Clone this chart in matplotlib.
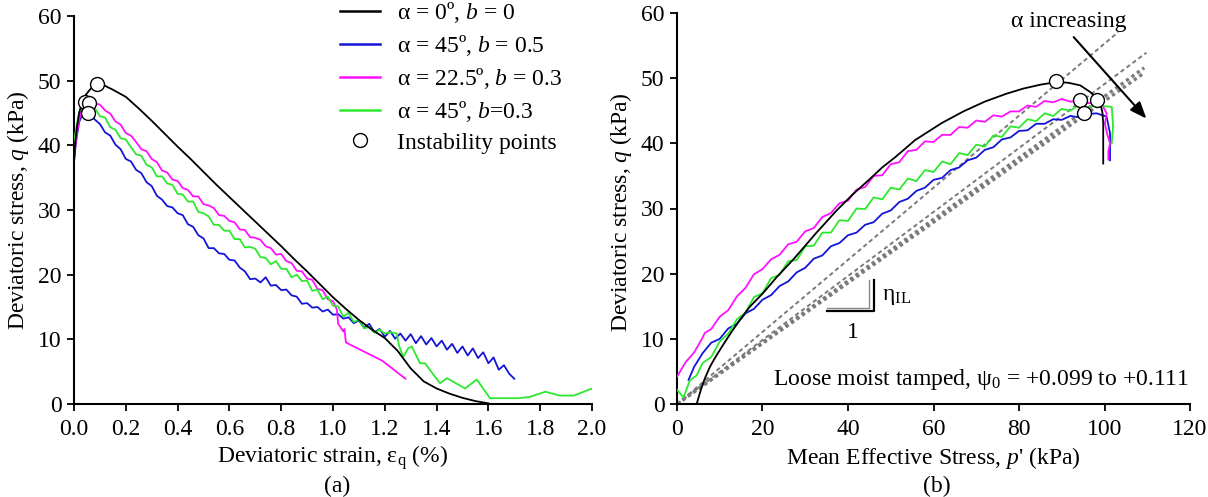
import matplotlib
matplotlib.use("Agg")
import matplotlib.pyplot as plt
from matplotlib.lines import Line2D

plt.rcParams['font.family'] = ['Liberation Serif', 'DejaVu Serif']
plt.rcParams['mathtext.fontset'] = 'custom'
plt.rcParams['mathtext.rm'] = 'Liberation Serif'
plt.rcParams['mathtext.it'] = 'Liberation Serif:italic'
plt.rcParams['mathtext.bf'] = 'Liberation Serif:bold'

# ---------------- Panel (a): deviatoric strain vs q ----------------
eps_black = [0.000, 0.005, 0.012, 0.02, 0.03, 0.04, 0.055, 0.07, 0.09, 0.12, 0.15,
             0.20, 0.25, 0.30, 0.35, 0.40, 0.45, 0.50, 0.55, 0.60, 0.65,
             0.70, 0.75, 0.80, 0.85, 0.90, 0.95, 1.00, 1.05, 1.10, 1.15,
             1.20, 1.25, 1.30, 1.35, 1.40, 1.45, 1.50, 1.55, 1.60]
q_black = [37.5, 40.5, 43.0, 45.0, 46.5, 47.5, 48.3, 49.0, 49.5, 49.2, 48.6,
           47.5, 45.7, 43.8, 41.8, 39.8, 37.9, 35.9, 33.9, 32.0, 30.1,
           28.2, 26.3, 24.4, 22.4, 20.5, 18.5, 16.5, 14.7, 13.0, 11.5,
           10.2, 8.2, 5.5, 3.5, 2.4, 1.6, 0.95, 0.45, 0.1]

eps_blue = [0.0, 0.005, 0.01, 0.02, 0.03, 0.045, 0.06, 0.08,
            0.10, 0.12, 0.14, 0.16, 0.18, 0.20, 0.22, 0.24, 0.26, 0.28,
            0.30, 0.32, 0.34, 0.36, 0.38, 0.40, 0.42, 0.44, 0.46, 0.48,
            0.50, 0.52, 0.54, 0.56, 0.58, 0.60, 0.62, 0.64, 0.66, 0.68,
            0.70, 0.72, 0.74, 0.76, 0.78, 0.80, 0.82, 0.84, 0.86, 0.88,
            0.90, 0.92, 0.94, 0.96, 0.98, 1.00, 1.02, 1.04, 1.06, 1.08,
            1.10, 1.12, 1.14, 1.16, 1.18, 1.20, 1.22, 1.24, 1.26, 1.28,
            1.30, 1.32, 1.34, 1.36, 1.38, 1.40, 1.42, 1.44, 1.46, 1.48,
            1.50, 1.52, 1.54, 1.56, 1.58, 1.60, 1.62, 1.64, 1.66, 1.68,
            1.70]
q_blue = [37.5, 39.5, 41.2, 43.6, 44.6, 45.0, 44.9, 44.0,
          43.3, 42.0, 41.5, 40.1, 39.4, 37.9, 37.5, 36.2, 35.7, 34.3,
          33.7, 32.2, 31.6, 30.6, 30.4, 29.5, 29.2, 27.8, 27.4, 26.1,
          25.6, 24.1, 24.1, 23.3, 23.2, 22.3, 22.2, 21.1, 20.5, 19.3,
          19.4, 18.8, 19.6, 18.3, 18.4, 17.6, 17.7, 16.8, 16.6, 15.5,
          15.6, 14.9, 15.0, 14.3, 14.6, 13.8, 13.9, 13.2, 13.4, 12.5,
          12.9, 11.8, 12.4, 11.1, 11.6, 10.4, 11.3, 10.1, 10.9, 9.8,
          10.8, 9.4, 10.5, 9.2, 10.2, 8.9, 9.8, 8.4, 9.3, 7.9,
          8.9, 7.5, 8.6, 7.1, 8.0, 6.3, 7.2, 5.3, 6.0, 4.7,
          3.9]

eps_mag = [0.0, 0.01, 0.02, 0.03, 0.05, 0.07, 0.09,
           0.10, 0.12, 0.14, 0.16, 0.18, 0.20, 0.22, 0.24, 0.26, 0.28,
           0.30, 0.32, 0.34, 0.36, 0.38, 0.40, 0.42, 0.44, 0.46, 0.48,
           0.50, 0.52, 0.54, 0.56, 0.58, 0.60, 0.62, 0.64, 0.66, 0.68,
           0.70, 0.72, 0.74, 0.76, 0.78, 0.80, 0.82, 0.84, 0.86, 0.88,
           0.90, 0.92, 0.94, 0.96, 0.98, 1.00,
           1.015, 1.02, 1.03, 1.04, 1.044, 1.05, 1.19, 1.28]
q_mag = [38.0, 41.5, 44.0, 45.5, 46.3, 46.6, 46.4,
         46.3, 45.4, 44.9, 43.7, 43.2, 41.9, 41.5, 40.5, 39.4, 39.1,
         37.9, 37.4, 36.1, 35.8, 34.7, 34.5, 33.4, 33.1, 32.1, 32.1,
         30.9, 30.7, 30.3, 29.2, 29.1, 28.3, 28.1, 27.0, 26.9, 25.8,
         25.7, 25.4, 24.4, 24.1, 23.1, 23.2, 22.1, 21.8, 20.6, 20.5,
         19.4, 19.2, 17.8, 17.6, 16.2, 15.9,
         14.6, 12.4, 11.8, 11.2, 11.6, 9.5, 6.7, 3.9]

eps_green = [0.0, 0.01, 0.02, 0.035, 0.05, 0.07,
             0.08, 0.10, 0.12, 0.14, 0.16, 0.18, 0.20, 0.22, 0.24, 0.26,
             0.28, 0.30, 0.32, 0.34, 0.36, 0.38, 0.40, 0.42, 0.44, 0.46,
             0.48, 0.50, 0.52, 0.54, 0.56, 0.58, 0.60, 0.62, 0.64, 0.66,
             0.68, 0.70, 0.72, 0.74, 0.76, 0.78, 0.80, 0.82, 0.84, 0.86,
             0.88, 0.90, 0.92, 0.94, 0.96, 0.98, 1.00, 1.02, 1.04, 1.06,
             1.08, 1.10, 1.12, 1.14, 1.16, 1.18, 1.20, 1.22,
             1.246, 1.255, 1.271, 1.29, 1.304, 1.336, 1.355, 1.413, 1.44,
             1.51, 1.555, 1.606, 1.72, 1.76, 1.82, 1.876, 1.93, 2.0]
q_green = [40.5, 43.0, 45.2, 46.6, 46.5, 46.2,
           45.8, 44.5, 44.3, 42.8, 42.4, 41.1, 40.9, 39.7, 38.6, 38.4,
           37.0, 36.6, 35.2, 35.2, 34.1, 33.9, 32.5, 32.4, 31.3, 31.3,
           29.7, 29.5, 29.0, 27.7, 27.7, 26.8, 26.8, 25.5, 25.5, 24.2,
           24.3, 24.0, 22.7, 22.6, 21.6, 22.1, 20.9, 20.9, 19.6, 20.0,
           19.0, 19.1, 17.5, 17.7, 16.2, 16.6, 15.2, 15.1, 13.5, 14.1,
           12.7, 13.0, 11.7, 11.9, 11.0, 11.5, 10.9, 11.1,
           10.9, 9.0, 7.3, 8.6, 8.9, 6.3, 6.3, 3.2, 4.0,
           2.4, 3.8, 0.9, 0.9, 1.1, 1.9, 1.3, 1.3, 2.4]

inst_eps = [0.09, 0.042, 0.059, 0.055]
inst_q_a = [49.5, 46.7, 46.6, 45.0]

# ---------------- Panel (b): p' vs q ----------------
p_black = [4.6, 5.5, 6.5, 7.7, 9, 11, 12.8, 14.7, 17, 20.1,
           23.5, 27.1, 30, 32.5, 35, 37.2, 41, 44.9, 48, 51.1,
           55.7, 61.9, 67, 72, 77, 81, 85, 88.7, 91.5, 94.3,
           96.6, 98.2, 99.0, 99.5, 99.7, 99.7, 99.7]
qb_black = [0, 2.0, 3.9, 5.7, 7.2, 9.3, 11.1, 12.9, 14.9, 17.0,
            19.6, 22.1, 24.3, 26.2, 28.0, 29.6, 32.1, 34.4, 36.3, 37.9,
            40.5, 43.1, 44.9, 46.4, 47.6, 48.4, 49.0, 49.4, 49.3, 48.9,
            47.9, 47.0, 46.1, 44.8, 43.1, 40.0, 36.9]

p_mag = [0, 2, 4, 6, 6.5, 8,
         10, 12, 14, 16, 18, 20, 22, 24, 26, 28,
         30, 32, 34, 36, 38, 40, 42, 44, 46, 48,
         50, 52, 54, 56, 58, 60, 62, 64, 66, 68,
         70, 72, 74, 76, 78, 80, 82, 84, 86, 88,
         90, 92, 94, 96, 98,
         99.7, 100.5, 100.1, 100.6, 101.3, 100.9, 100.9]
qb_mag = [4.2, 6.4, 7.9, 10.2, 10.9, 11.5,
          13.4, 14.4, 16.5, 17.8, 19.9, 20.7, 22.2, 22.9, 24.5, 24.9,
          26.5, 27.0, 28.7, 29.3, 30.8, 31.2, 32.9, 33.3, 35.0, 35.1,
          36.8, 37.1, 38.8, 39.0, 40.3, 40.2, 41.3, 41.3, 42.5, 42.4,
          43.5, 43.3, 44.3, 44.1, 44.9, 44.9, 45.8, 45.6, 46.5, 46.3,
          46.8, 46.4, 46.6, 46.2, 46.1,
          45.6, 44.6, 43.0, 41.5, 40.0, 38.8, 37.5]

p_green = [0, 1.5, 3, 4.6, 6, 8,
           10, 12, 14, 16, 18, 20, 22, 24, 26, 28,
           30, 32, 34, 36, 38, 40, 42, 44, 46, 48,
           50, 52, 54, 56, 58, 60, 62, 64, 66, 68,
           70, 72, 74, 76, 78, 80, 82, 84, 86, 88,
           90, 92, 94, 96, 98,
           99.7, 101.7, 102.0, 101.7]
qb_green = [2.2, 1.0, 3.6, 4.4, 6.3, 7.2,
            9.6, 10.8, 13.0, 14.0, 16.4, 17.0, 19.3, 19.8, 21.9, 22.1,
            24.2, 24.3, 26.3, 26.3, 28.2, 28.1, 30.0, 29.9, 31.7, 31.4,
            33.2, 32.9, 34.6, 34.2, 35.9, 35.6, 37.2, 36.8, 38.5, 38.2,
            39.8, 39.5, 41.2, 41.0, 42.6, 42.4, 43.7, 43.4, 44.6, 44.2,
            45.3, 45.0, 45.9, 45.4, 46.0,
            45.7, 45.6, 42.6, 40.0]

p_blue = [2.7, 4, 6, 8,
          10, 12, 14, 16, 18, 20, 22, 24, 26, 28,
          30, 32, 34, 36, 38, 40, 42, 44, 46, 48,
          50, 52, 54, 56, 58, 60, 62, 64, 66, 68,
          70, 72, 74, 76, 78, 80, 82, 84, 86, 88,
          90, 92, 94, 96,
          98.2, 100.5, 101.3, 101.3]
qb_blue = [3.7, 5.7, 7.8, 9.4,
           10.0, 11.6, 12.3, 13.9, 14.6, 16.0, 16.7, 18.1, 18.8, 20.2,
           20.9, 22.3, 22.8, 24.2, 24.7, 25.9, 26.3, 27.5, 27.9, 29.2,
           29.7, 31.0, 31.5, 32.7, 33.2, 34.4, 34.7, 35.9, 36.3, 37.4,
           37.8, 39.0, 39.4, 40.6, 40.9, 41.9, 42.0, 43.0, 43.0, 43.7,
           43.6, 44.2, 44.0, 44.5,
           44.6, 44.1, 41.5, 37.4]

inst_p = [88.7, 94.3, 95.2, 98.2]
inst_q_b = [49.6, 46.6, 44.7, 46.7]

# instability-line slopes (eta_IL) and where each dotted line ends
eta_IL = [0.553, 0.491, 0.472, 0.465]
eta_end_p = [103.2, 109.8, 109.3, 109.3]
eta_lw = [1.4, 1.4, 2.4, 2.4]

labels = [r"α = 0º, $b$ = 0", r"α = 45º, $b$ = 0.5",
          r"α = 22.5º, $b$ = 0.3", r"α = 45º, $b$=0.3"]
colors = ['black', '#1414D8', '#FF10FF', '#2EE82E']

FS = 17

fig = plt.figure(figsize=(12.08, 4.97), dpi=100)
axA = fig.add_axes([74/1208, 93/497, 518/1208, 388/497])
axB = fig.add_axes([677/1208, 93/497, 513/1208, 391/497])

LW = 1.3
axA.plot(eps_black, q_black, color=colors[0], lw=LW, zorder=5)
axA.plot(eps_blue, q_blue, color=colors[1], lw=LW, zorder=2)
axA.plot(eps_mag, q_mag, color=colors[2], lw=LW, zorder=3)
axA.plot(eps_green, q_green, color=colors[3], lw=LW, zorder=4)
axA.plot(inst_eps, inst_q_a, 'o', ms=10, mfc='white', mec='black', mew=1.0, zorder=6)

for s, pe, lw in zip(eta_IL, eta_end_p, eta_lw):
    dash = (2.2, 1.6) if lw < 2 else (1.0, 1.0)
    axB.plot([0, pe], [0, s * pe], color='#7a7a7a', lw=lw, dashes=dash, zorder=1)

axB.plot(p_black, qb_black, color=colors[0], lw=LW, zorder=5)
axB.plot(p_blue, qb_blue, color=colors[1], lw=LW, zorder=2)
axB.plot(p_mag, qb_mag, color=colors[2], lw=LW, zorder=3)
axB.plot(p_green, qb_green, color=colors[3], lw=LW, zorder=4)
axB.plot(inst_p, inst_q_b, 'o', ms=10, mfc='white', mec='black', mew=1.0, zorder=6)

# slope triangle
axB.plot([35.2, 45.0, 45.0], [14.7, 14.7, 19.0], color='#888888', lw=1.0, zorder=3)
axB.plot([35.2, 46.0, 46.0], [14.2, 14.2, 19.0], color='black', lw=1.6, zorder=3)
axB.text(48.0, 16.5, r"η$_\mathregular{IL}$", fontsize=FS, ha='left', va='center')
axB.text(41.1, 11.0, "1", fontsize=FS, ha='center', va='center')
axB.text(119.8, 3.7, r"Loose moist tamped, ψ$_\mathregular{0}$ = +0.099 to +0.111",
         fontsize=FS, ha='right', va='center')
axB.text(91.7, 58.7, "α increasing", fontsize=FS, ha='center', va='center')
axB.annotate('', xy=(109.8, 43.8), xytext=(92.8, 56.3),
             arrowprops=dict(arrowstyle='-|>,head_length=1.0,head_width=0.4',
                             color='black', lw=1.5, shrinkA=0, shrinkB=0),
             annotation_clip=False)

for ax in (axA, axB):
    ax.spines['top'].set_visible(False)
    ax.spines['right'].set_visible(False)
    ax.spines['left'].set_linewidth(1.5)
    ax.spines['bottom'].set_linewidth(1.5)
    ax.tick_params(direction='out', length=5, width=1.3, labelsize=FS)
    ax.tick_params(axis='x', pad=6)
    ax.tick_params(axis='y', pad=4)
    ax.set_ylim(0, 60)
    ax.set_yticks([0, 10, 20, 30, 40, 50, 60])
    ax.set_ylabel(r"Deviatoric stress, $q$ (kPa)", fontsize=FS)

axA.set_xlim(0, 2.0)
axA.set_xticks([0.0, 0.2, 0.4, 0.6, 0.8, 1.0, 1.2, 1.4, 1.6, 1.8, 2.0])
axA.set_xticklabels(['0.0', '0.2', '0.4', '0.6', '0.8', '1.0', '1.2', '1.4', '1.6', '1.8', '2.0'])
axB.set_xlim(0, 120)
axB.set_xticks([0, 20, 40, 60, 80, 100, 120])

axA.set_xlabel(r"Deviatoric strain, ε$_\mathregular{q}$ (%)", fontsize=FS)
axB.set_xlabel(r"Mean Effective Stress, $p$' (kPa)", fontsize=FS)
axA.xaxis.set_label_coords(0.5, -0.139)
axB.xaxis.set_label_coords(0.5, -0.139)
axA.xaxis.label.set_va('center')
axB.xaxis.label.set_va('center')
axA.yaxis.set_label_coords(-0.083, 0.5)
axB.yaxis.set_label_coords(-0.084, 0.49)

fig.text(337/1208, 1 - 486/497, "(a)", fontsize=FS, ha='center', va='center')
fig.text(937/1208, 1 - 486/497, "(b)", fontsize=FS, ha='center', va='center')

handles = [Line2D([], [], color=c, lw=1.8) for c in colors]
handles.append(Line2D([], [], ls='none', marker='o', ms=10, mfc='white', mec='black'))
leg = fig.legend(handles, labels + ["Instability points"], loc='upper left',
                 bbox_to_anchor=(340/1208, 1.0), frameon=False, fontsize=FS,
                 handlelength=1.7, handletextpad=0.72, labelspacing=0.34,
                 borderpad=0, borderaxespad=0)

fig.savefig("out.png", dpi=100)
